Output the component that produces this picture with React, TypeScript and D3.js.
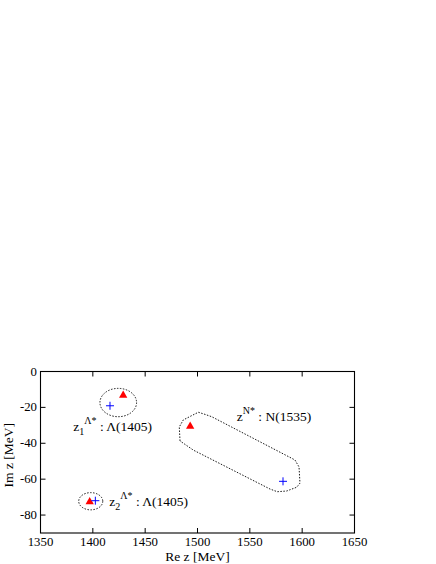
import React from "react";
import * as d3 from "d3";

const xTicks = [1350, 1400, 1450, 1500, 1550, 1600, 1650];
const yTicks = [0, -20, -40, -60, -80];
const xDomain = [1350, 1650];
const yDomain = [-90, 0];

// Pole positions (Re, Im)
const triangles: [number, number][] = [
  [1429, -13.3],
  [1493, -30.5],
  [1397, -72.6],
];
const crosses: [number, number][] = [
  [1416.4, -19.1],
  [1402.4, -72],
  [1581.7, -61.2],
];
// Ellipses: center Re, center Im, radius Re, radius Im
const ellipses: [number, number, number, number][] = [
  [1424.3, -17.3, 17.5, 7.9],
  [1398, -72.3, 11.5, 4.8],
];
// N* region contour
const contour: [number, number][] = [
  [1483.3, -38.7],
  [1482.6, -30.9],
  [1486.4, -27.0],
  [1500.8, -22.7],
  [1507.2, -23.9],
  [1513.6, -25.2],
  [1593.1, -49.3],
  [1597.0, -53.2],
  [1597.9, -62.2],
  [1594.8, -64.5],
  [1585.2, -66.6],
  [1576.2, -67.0],
  [1569.3, -65.5],
  [1496.0, -43.8],
];

const W = 436;
const H = 564;
const L = 40.5, R = 354.5, T = 371.5, B = 533;
const FONT = "'Liberation Serif', 'DejaVu Serif', serif";

export default function App() {
  const x = d3.scaleLinear().domain(xDomain).range([L, R]);
  const y = d3.scaleLinear().domain(yDomain).range([B, T]);
  const line = d3
    .line<[number, number]>()
    .x((d) => x(d[0]))
    .y((d) => y(d[1]))
    .curve(d3.curveLinearClosed);
  const tri = d3.symbol().type(d3.symbolTriangle).size(30)();
  return (
    <svg
      width={W}
      height={H}
      style={{ position: "absolute", left: 0, top: 0, background: "#fff" }}
      fontFamily={FONT}
    >
      <rect x={0} y={0} width={W} height={H} fill="#fff" />
      {/* frame */}
      <rect x={L} y={T} width={R - L} height={B - T} fill="none" stroke="#000" strokeWidth={1.1} />
      {xTicks.map((t) => (
        <g key={"xt" + t}>
          <line x1={x(t)} x2={x(t)} y1={B} y2={B - 5} stroke="#000" />
          <line x1={x(t)} x2={x(t)} y1={T} y2={T + 5} stroke="#000" />
          <text x={x(t)} y={545.5} textAnchor="middle" fontSize={12.8}>
            {t}
          </text>
        </g>
      ))}
      {yTicks.map((t) => (
        <g key={"yt" + t}>
          <line x1={L} x2={L + 5} y1={y(t)} y2={y(t)} stroke="#000" />
          <line x1={R} x2={R - 5} y1={y(t)} y2={y(t)} stroke="#000" />
          <text x={37} y={y(t)} textAnchor="end" dominantBaseline="central" fontSize={12.8}>
            {t}
          </text>
        </g>
      ))}
      <text x={(L + R) / 2} y={560.5} textAnchor="middle" fontSize={13.5}>
        Re z [MeV]
      </text>
      <text
        transform={`translate(12.5, ${(T + B) / 2 + 3}) rotate(-90)`}
        textAnchor="middle"
        fontSize={13.5}
      >
        Im z [MeV]
      </text>

      {/* regions */}
      {ellipses.map((e, i) => (
        <ellipse
          key={"el" + i}
          cx={x(e[0])}
          cy={y(e[1])}
          rx={x(e[0] + e[2]) - x(e[0])}
          ry={y(e[1] - e[3]) - y(e[1])}
          fill="none"
          stroke="#000"
          strokeWidth={0.9}
          strokeDasharray="1.5,1.5"
        />
      ))}
      <path d={line(contour) || ""} fill="none" stroke="#000" strokeWidth={0.9} strokeDasharray="1.5,1.5" />

      {/* poles */}
      {triangles.map((p, i) => (
        <path key={"tr" + i} d={tri || ""} transform={`translate(${x(p[0])},${y(p[1])})`} fill="#ff0000" />
      ))}
      {crosses.map((p, i) => (
        <g key={"cr" + i} stroke="#0000ff" strokeWidth={1}>
          <line x1={x(p[0]) - 4} x2={x(p[0]) + 4} y1={y(p[1])} y2={y(p[1])} />
          <line x1={x(p[0])} x2={x(p[0])} y1={y(p[1]) - 4} y2={y(p[1]) + 4} />
        </g>
      ))}

      {/* labels */}
      <text x={73.3} y={431} fontSize={13.5}>
        z<tspan fontSize={10} dy={4}>1</tspan>
        <tspan fontSize={10} dy={-11}>Λ*</tspan>
        <tspan dy={7}> : Λ(1405)</tspan>
      </text>
      <text x={109.3} y={505.7} fontSize={13.5}>
        z<tspan fontSize={10} dy={4}>2</tspan>
        <tspan fontSize={10} dy={-11}>Λ*</tspan>
        <tspan dy={7}> : Λ(1405)</tspan>
      </text>
      <text x={236.7} y={420.7} fontSize={13.5}>
        z<tspan fontSize={10} dy={-7}>N*</tspan>
        <tspan dy={7}> : N(1535)</tspan>
      </text>
    </svg>
  );
}
